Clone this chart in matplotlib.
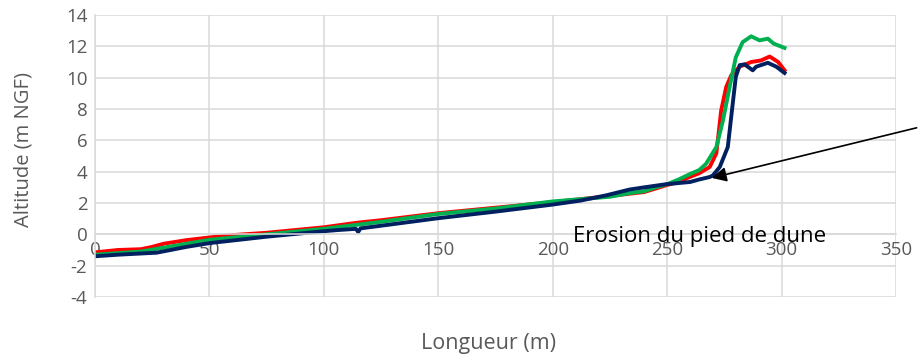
import matplotlib
matplotlib.use("Agg")
import matplotlib.pyplot as plt

# Profils de plage (longueur en m, altitude en m NGF)
red_x = [0, 10, 20, 25, 30, 40, 50, 60, 75, 100, 115, 125, 150, 175, 200, 225, 240, 250,
         255, 260, 264, 268.6, 271.5, 273.6, 275.8, 278, 281.7, 286.7, 291, 294.8, 298.5, 301.3]
red_y = [-1.15, -1.0, -0.95, -0.8, -0.6, -0.37, -0.2, -0.05, 0.1, 0.45, 0.75, 0.9, 1.35, 1.7,
         2.05, 2.45, 2.7, 3.15, 3.35, 3.67, 3.9, 4.3, 5.17, 7.9, 9.4, 10.15, 10.7, 11.0, 11.1,
         11.35, 11.0, 10.47]

green_x = [0, 20, 50, 75, 100, 125, 150, 175, 200, 225, 233.6, 240, 245, 250, 255, 260, 264,
           267, 271.5, 274.4, 277.3, 280, 283, 286.7, 290.4, 294, 296.6, 301.3]
green_y = [-1.3, -1.1, -0.35, 0.0, 0.35, 0.8, 1.3, 1.65, 2.1, 2.4, 2.63, 2.75, 3.0, 3.2, 3.5,
           3.85, 4.1, 4.5, 5.57, 7.27, 9.4, 11.3, 12.27, 12.64, 12.38, 12.49, 12.17, 11.9]

navy_x = [0, 10, 27, 40, 50, 75, 100, 105.7, 114, 115, 116, 125, 150, 175, 200, 212, 223.4,
          233.6, 240, 249.6, 260, 264, 268.6, 270, 273, 276.5, 278, 280, 281.7, 283.8, 287.4,
          288.9, 294, 297.7, 301.3]
navy_y = [-1.4, -1.3, -1.17, -0.8, -0.56, -0.15, 0.2, 0.27, 0.35, 0.15, 0.38, 0.55, 1.03,
          1.45, 1.9, 2.15, 2.49, 2.86, 3.0, 3.2, 3.34, 3.5, 3.66, 3.76, 4.3, 5.57, 7.5, 10.05,
          10.8, 10.85, 10.47, 10.7, 10.95, 10.7, 10.3]

x_ticks = [0, 50, 100, 150, 200, 250, 300, 350]
y_ticks = [-4, -2, 0, 2, 4, 6, 8, 10, 12, 14]

plt.rcParams['font.family'] = ['Open Sans', 'DejaVu Sans']
plt.rcParams['axes.unicode_minus'] = False

fig = plt.figure(figsize=(9.18, 3.58), dpi=100)
ax = fig.add_axes([95 / 918, 1 - 297 / 358, (896 - 95) / 918, (297 - 15) / 358])

grid_c = '#D9D9D9'
text_c = '#595959'

ax.plot(red_x, red_y, color='#FF0000', lw=2.8, solid_joinstyle='round')
ax.plot(green_x, green_y, color='#00B050', lw=2.8, solid_joinstyle='round')
ax.plot(navy_x, navy_y, color='#002060', lw=2.8, solid_joinstyle='round')

ax.set_xlim(0, 350)
ax.set_ylim(-4, 14)
ax.set_xticks(x_ticks)
ax.set_yticks(y_ticks)
ax.grid(True, color=grid_c, lw=1.1)
ax.set_axisbelow(True)

for s in ['top', 'right']:
    ax.spines[s].set_visible(False)
ax.spines['left'].set_color(grid_c)
ax.spines['left'].set_linewidth(1.1)
ax.spines['bottom'].set_position(('data', 0))
ax.spines['bottom'].set_color(grid_c)
ax.spines['bottom'].set_linewidth(1.1)
ax.tick_params(length=0, labelsize=13.5, labelcolor=text_c)
ax.tick_params(axis='x', pad=5)
ax.tick_params(axis='y', pad=5.5)

fig.text(488 / 918, 1 - 343 / 358, 'Longueur (m)', ha='center', va='center',
         fontsize=15.5, color=text_c)
fig.text(24 / 918, 1 - 150 / 358, 'Altitude (m NGF)', ha='center', va='center',
         rotation=90, fontsize=14.5, color=text_c)

ax.text(264, -0.49, 'Erosion du pied de dune', ha='center', va='baseline', fontsize=16,
        color='black')
ax.annotate('', xy=(269.5, 3.6), xytext=(359, 6.8), annotation_clip=False,
            arrowprops=dict(arrowstyle='-|>', color='black', lw=1.2,
                            mutation_scale=22, shrinkA=0, shrinkB=0))

fig.savefig('out.png', dpi=100)
